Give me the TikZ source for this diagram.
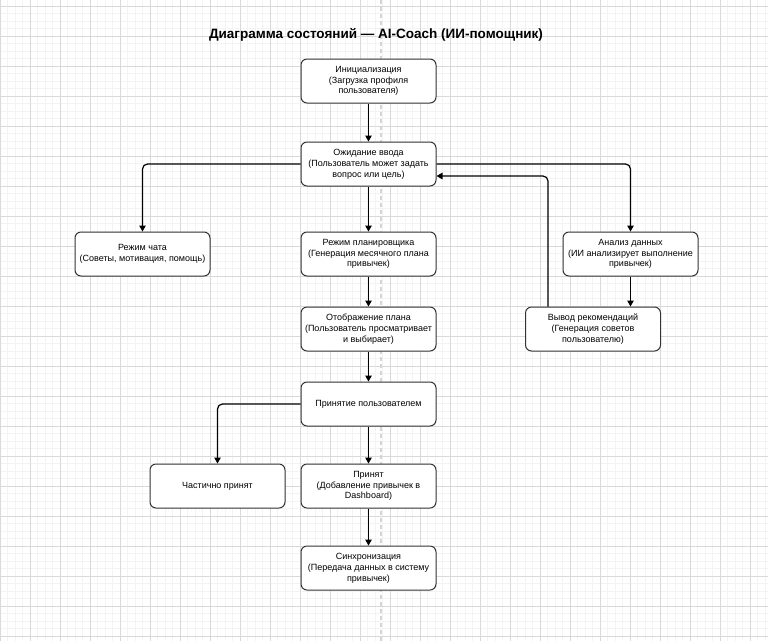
\documentclass[tikz,border=0pt]{standalone}
\usepackage{fontspec}
\setmainfont{Liberation Sans}
\usetikzlibrary{arrows.meta}
\definecolor{gridminor}{HTML}{F3F3F3}
\definecolor{gridmajor}{HTML}{D9D9D9}
\definecolor{pageline}{HTML}{D4D4D4}
\definecolor{boxline}{HTML}{333333}
\begin{document}
\begin{tikzpicture}[x=1pt,y=-1pt,
    state/.style={draw=boxline,line width=1pt,rounded corners=6pt,fill=white,
      minimum width=135pt,minimum height=44pt,align=center,inner sep=1pt,
      font=\fontsize{9}{10.8}\selectfont},
    flow/.style={draw=black,line width=1.2pt,rounded corners=5pt,
      -{Triangle[length=6pt,width=6.5pt]}}]
  \useasboundingbox (0,0) rectangle (768,641);
  \fill[white] (0,0) rectangle (768,641);
  % background grid
  \foreach \x in {0,7.5,...,768} \draw[gridminor,line width=0.8pt] (\x,0) -- (\x,641);
  \foreach \y in {-1.5,6,...,641} \draw[gridminor,line width=0.8pt] (0,\y) -- (768,\y);
  \foreach \x in {0,30,...,768} \draw[gridmajor,line width=0.8pt] (\x,0) -- (\x,641);
  \foreach \y in {6,36,...,641} \draw[gridmajor,line width=0.8pt] (0,\y) -- (768,\y);
  \draw[pageline,line width=1.2pt,dash pattern=on 4pt off 3pt] (381,0) -- (381,641);

  \node[font=\bfseries\fontsize{13.5}{16}\selectfont] (title) at (376,35)
    {Диаграмма состояний — AI-Coach (ИИ-помощник)};

  \node[state] (init) at (368.5,81) {Инициализация\\(Загрузка профиля\\пользователя)};
  \node[state] (wait) at (368.5,164) {Ожидание ввода\\(Пользователь может задать\\вопрос или цель)};
  \node[state] (chat) at (142.5,254) {Режим чата\\(Советы, мотивация, помощь)};
  \node[state] (plan) at (368.5,254) {Режим планировщика\\(Генерация месячного плана\\привычек)};
  \node[state] (analysis) at (630.5,254) {Анализ данных\\(ИИ анализирует выполнение\\привычек)};
  \node[state] (show) at (368.5,329) {Отображение плана\\(Пользователь просматривает\\и выбирает)};
  \node[state] (advice) at (593,329) {Вывод рекомендаций\\(Генерация советов\\пользователю)};
  \node[state] (accept) at (368.5,404) {Принятие пользователем};
  \node[state] (partial) at (217.5,486) {Частично принят};
  \node[state] (accepted) at (368.5,486) {Принят\\(Добавление привычек в\\Dashboard)};
  \node[state] (sync) at (368.5,568) {Синхронизация\\(Передача данных в систему\\привычек)};

  % transitions
  \draw[flow] (init) -- (wait);
  \draw[flow] (wait.west) -| (chat.north);
  \draw[flow] (wait.east) -| (analysis.north);
  \draw[flow] (wait) -- (plan);
  \draw[flow] (plan) -- (show);
  \draw[flow] (analysis.south) -- (analysis.south |- advice.north);
  \draw[flow] ([xshift=-45pt]advice.north) |- ([yshift=-12pt]wait.east);
  \draw[flow] (show) -- (accept);
  \draw[flow] (accept.west) -| (partial.north);
  \draw[flow] (accept) -- (accepted);
  \draw[flow] (accepted) -- (sync);
\end{tikzpicture}
\end{document}
